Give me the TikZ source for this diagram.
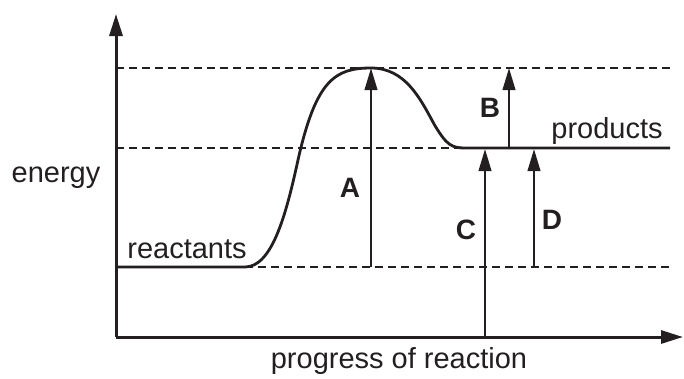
\documentclass[tikz,border=0pt]{standalone}
\usepackage{fontspec}
\setmainfont{Liberation Sans}
\usetikzlibrary{arrows.meta}
\definecolor{ink}{RGB}{35,31,32}
\begin{document}
\begin{tikzpicture}[x=1pt,y=-1pt,color=ink,
  axis/.style={line width=3pt,-{Triangle[length=22pt,width=13pt]}},
  gap/.style={line width=2.5pt,-{Triangle[length=22pt,width=12.5pt]}},
  level/.style={line width=1.3pt,dash pattern=on 8pt off 5pt},
  curve/.style={line width=2.8pt},
  lbl/.style={font=\fontsize{29}{33}\selectfont,inner sep=0pt},
  letter/.style={font=\fontsize{28}{32}\selectfont\bfseries,inner sep=0pt}]
\useasboundingbox (0,0) rectangle (684,378);
% coordinates
\coordinate (O) at (116,337);
\coordinate (Ytop) at (116,14);
\coordinate (Xend) at (683,337);
\coordinate (T0) at (116,68);
\coordinate (T1) at (670,68);
\coordinate (P0) at (116,148);
\coordinate (P1) at (466,148);
\coordinate (P2) at (670,148);
\coordinate (R0) at (116,267);
\coordinate (R1) at (245,267);
\coordinate (R2) at (670,267);
\coordinate (Peak) at (371,68);
% dashed levels
\draw[level] (T0) -- (T1);
\draw[level] (P0) -- (P1);
\draw[level] (R1) -- (R2);
% energy profile
\draw[curve] (R0) -- (R1)
  .. controls (272,267) and (286,215) .. (298,160)
  .. controls (316,80) and (335,68) .. (Peak)
  .. controls (405,68) and (420,98) .. (434,124)
  .. controls (447,146) and (452,148) .. (P1) -- (P2);
% axes
\draw[axis] (O) -- (Ytop);
\draw[axis] (O) -- (Xend);
% arrows
\coordinate (A0) at (371,267);
\coordinate (B0) at (509,148);
\coordinate (B1) at (509,68);
\coordinate (C0) at (485,337);
\coordinate (C1) at (485,149);
\coordinate (D0) at (534,267);
\coordinate (D1) at (534,149);
\draw[gap] (A0) -- (Peak);
\draw[gap] (B0) -- (B1);
\draw[gap] (C0) -- (C1);
\draw[gap] (D0) -- (D1);
% labels
\node[letter] (LA) at (350,188) {A};
\node[letter] (LB) at (490,108) {B};
\node[letter] (LC) at (466,230) {C};
\node[letter] (LD) at (552,220) {D};
\node[lbl] (Lprod) at (607,131) {products};
\node[lbl] (Lreac) at (187,249) {reactants};
\node[lbl] (Len) at (56,178) {energy};
\node[lbl] (Lprog) at (399,361) {progress of reaction};
\end{tikzpicture}
\end{document}
